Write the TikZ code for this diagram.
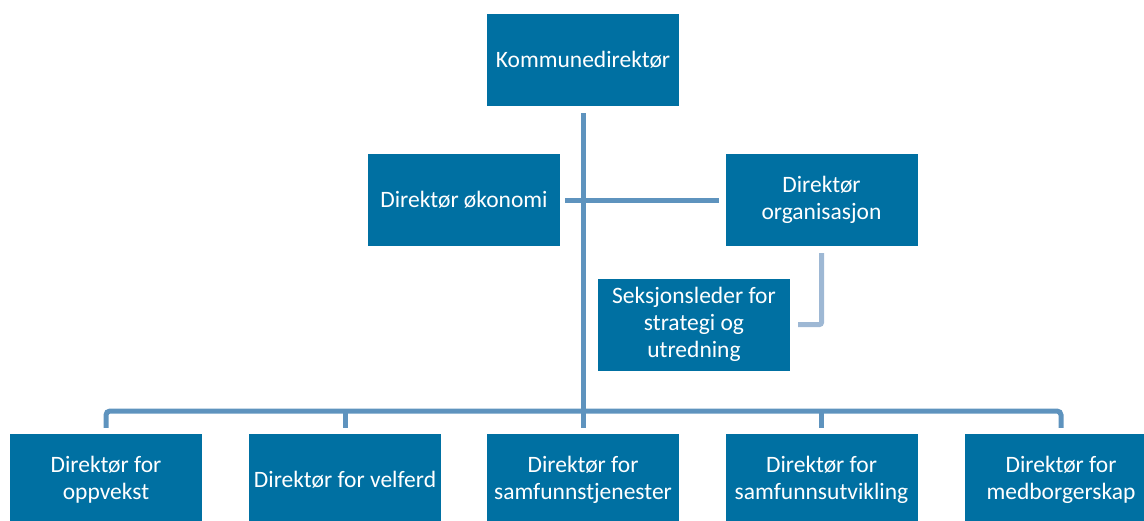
\documentclass[tikz,border=0pt]{standalone}
\usepackage{fontspec}
\setmainfont{Carlito}
\usetikzlibrary{calc}

\definecolor{boxblue}{RGB}{0,112,162}
\definecolor{linkblue}{RGB}{94,147,190}
\definecolor{sublinkblue}{RGB}{158,184,212}

\begin{document}
\begin{tikzpicture}[x=1pt,y=-1pt,
    box/.style={fill=boxblue,text=white,minimum width=192pt,minimum height=92pt,
      inner sep=0pt,align=center,font=\fontsize{23.5}{27}\selectfont},
    link/.style={draw=linkblue,line width=5pt},
    sublink/.style={draw=sublinkblue,line width=5pt}]
  \useasboundingbox (0,0) rectangle (1144,520);

  \node[box] (top) at (583,60) {Kommunedirektør};
  \node[box] (oko) at (464,200) {Direktør økonomi};
  \node[box] (org) at (821.5,200) {Direktør\\organisasjon};
  \node[box] (sek) at (694,324.5) {Seksjonsleder for\\strategi og\\utredning};

  \node[box] (d1) at (106,480) {Direktør for\\oppvekst};
  \node[box] (d2) at (345,480) {Direktør for velferd};
  \node[box] (d3) at (583,480) {Direktør for\\samfunnstjenester};
  \node[box] (d4) at (821.5,480) {Direktør for\\samfunnsutvikling};
  \node[box] (d5) at (1061,480) {Direktør for\\medborgerskap};

  \coordinate (bus) at (583,411);

  \draw[link,shorten <=7pt,shorten >=6pt] (top.south) -- (d3.north);
  \draw[link,shorten <=5pt,shorten >=6pt] (oko.east) -- (org.west);
  \draw[sublink,rounded corners=2pt,shorten <=7pt,shorten >=8pt] (org.south) |- (sek.east);

  \draw[link,rounded corners=4pt,shorten <=6pt,shorten >=6pt] (d1.north) |- (bus) -| (d5.north);
  \foreach \d in {d2,d4}
    \draw[link,shorten <=6pt] (\d.north) -- (\d.north |- bus);
\end{tikzpicture}
\end{document}
